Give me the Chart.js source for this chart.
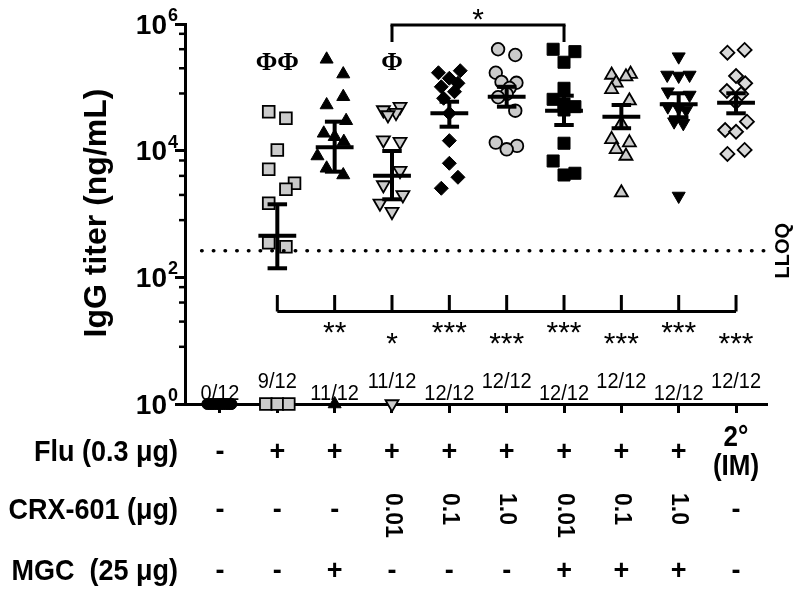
<!DOCTYPE html>
<html>
<head>
<meta charset="utf-8">
<title>IgG titer</title>
<script src="https://cdn.jsdelivr.net/npm/chart.js"></script>
<style>
  html, body { margin: 0; padding: 0; background: #fff; }
  canvas { display: block; }
</style>
</head>
<body>
<canvas id="titer-chart" width="800" height="593"></canvas>
<script>
var groups = [1, 2, 3, 4, 5, 6, 7, 8, 9, 10];

// IgG titer (ng/mL) of each mouse; 1 = not detected
var naive       = [1, 1, 1, 1, 1, 1, 1, 1, 1, 1, 1, 1];
var fluOnly     = [41200, 32400, 10250, 5080, 3050, 2455, 1476, 352, 305, 1, 1, 1];
var fluMgc      = [277000, 162000, 71100, 52600, 29700, 18800, 16600, 13900, 8240, 5270, 4130, 1];
var fluCrx001   = [49500, 43900, 39800, 36600, 14700, 13900, 4830, 2870, 2000, 1476, 1087, 1];
var fluCrx01    = [183000, 170000, 139000, 116000, 102000, 85300, 67100, 38900, 14400, 6320, 3800, 2550];
var fluCrx1     = [399000, 324000, 170000, 121600, 118000, 97700, 78500, 69700, 42800, 13400, 11900, 10500];
var mgcCrx001   = [399000, 366000, 249000, 96600, 64700, 54600, 49500, 43900, 13100, 6870, 4400, 4130];
var mgcCrx01    = [162000, 156700, 147300, 118000, 93100, 61500, 26400, 15100, 13400, 10500, 8240, 2170];
var mgcCrx1     = [305000, 156700, 151000, 156700, 85300, 75700, 49500, 47200, 43900, 28700, 27000, 1925];
var secondaryIm = [389000, 352000, 151000, 116000, 87500, 78500, 58800, 28700, 21200, 19900, 10250, 8870];
var titers = [naive, fluOnly, fluMgc, fluCrx001, fluCrx01, fluCrx1, mgcCrx001, mgcCrx01, mgcCrx1, secondaryIm];

// mean and SEM limits
var meanTiter = [null, 455, 11300, 4030, 38900, 71100, 42800, 34400, 54000, 57200];
var semLow    = [null, 139, 4660, 1707, 23900, 49500, 25400, 22600, 33700, 38900];
var semHigh   = [null, 1423, 28700, 9880, 59300, 102000, 73800, 52600, 80500, 80500];

var lloq = 263;
var responders = ['0/12', '9/12', '11/12', '11/12', '12/12', '12/12', '12/12', '12/12', '12/12', '12/12'];
var vsFluOnly  = ['', '', '**', '*', '***', '***', '***', '***', '***', '***'];
var phiMarks   = ['', '\u03A6\u03A6', '', '\u03A6', '', '', '', '', '', ''];

var fluRow = ['-', '+', '+', '+', '+', '+', '+', '+', '+', '2\u00B0'];
var crxRow = ['-', '-', '-', '0.01', '0.1', '1.0', '0.01', '0.1', '1.0', '-'];
var mgcRow = ['-', '-', '+', '-', '-', '-', '+', '+', '+', '-'];

var majorTicks = [1, 100, 10000, 1000000];
var tickExp = ['0', '2', '4', '6'];
var minorTicks = [8, 20, 40, 70, 800, 2000, 4000, 7000, 80000, 200000, 400000, 700000];

// horizontal spread of the dots inside each column (x units)
var jitter = [
  [-0.22, -0.18, -0.14, -0.1, -0.06, -0.02, 0.02, 0.06, 0.1, 0.14, 0.18, 0.2],
  [-0.15, 0.15, 0, -0.15, 0.3, 0.15, -0.15, -0.15, 0.15, -0.2, 0, 0.2],
  [-0.14, 0.15, 0.15, -0.14, 0.2, -0.19, 0, 0.16, -0.3, -0.14, 0.15, 0],
  [0.14, -0.15, 0.07, -0.07, -0.15, 0.14, 0.14, -0.15, 0.19, -0.21, 0, 0],
  [0.19, -0.19, 0, 0.15, -0.14, 0.09, -0.1, 0, 0, 0, 0.15, -0.14],
  [-0.15, 0.15, -0.19, -0.09, 0.17, 0.05, 0, -0.15, 0.15, -0.19, 0.18, 0],
  [-0.19, 0.19, 0, 0, -0.19, 0, 0.19, 0, 0, -0.19, 0.19, 0],
  [0.16, -0.17, 0.08, -0.09, -0.17, 0.14, 0, -0.17, 0.14, -0.09, 0.08, 0],
  [0, -0.2, 0, 0.19, -0.19, 0.19, -0.19, 0, 0.13, -0.08, 0.08, 0],
  [0.15, -0.15, 0, 0.16, -0.16, 0.09, 0, 0.19, -0.19, 0, 0.15, -0.15]
];

var GRAY = '#cbcbcb';
var markers = [
  { style: 'circle',   rot: 0,   r: 5.5, fill: '#000' },
  { style: 'rect',     rot: 0,   r: 8.3, fill: GRAY },
  { style: 'triangle', rot: 0,   r: 7.5, fill: '#000' },
  { style: 'triangle', rot: 180, r: 7.5, fill: GRAY },
  { style: 'rectRot',  rot: 0,   r: 7,   fill: '#000' },
  { style: 'circle',   rot: 0,   r: 6.3, fill: GRAY },
  { style: 'rect',     rot: 0,   r: 8.5, fill: '#000' },
  { style: 'triangle', rot: 0,   r: 7.5, fill: GRAY },
  { style: 'triangle', rot: 180, r: 7.5, fill: '#000' },
  { style: 'rectRot',  rot: 0,   r: 7,   fill: '#d8d8d8' }
];

var SANS = '"Liberation Sans", Arial, sans-serif';

// sy stretches the glyphs vertically, like the tall type of the original figure
function text(ctx, s, x, y, font, align, base, rot, sy) {
  ctx.save();
  ctx.translate(x, y);
  if (rot) ctx.rotate(rot);
  if (sy) ctx.scale(1, sy);
  ctx.font = font;
  ctx.textAlign = align || 'center';
  ctx.textBaseline = base || 'middle';
  ctx.fillStyle = '#000';
  ctx.fillText(s, 0, 0);
  ctx.restore();
}

function seg(ctx, x0, y0, x1, y1) {
  ctx.beginPath();
  ctx.moveTo(x0, y0);
  ctx.lineTo(x1, y1);
  ctx.stroke();
}

var datasets = [{
  type: 'line',
  data: [{ x: 0.68, y: lloq }, { x: 10.51, y: lloq }],
  borderColor: '#000',
  borderWidth: 3.5,
  borderDash: [0.5, 11.2],
  borderCapStyle: 'round',
  pointRadius: 0,
  clip: false
}];

groups.forEach(function (g, i) {
  var m = markers[i];
  datasets.push({
    type: 'scatter',
    data: titers[i].map(function (v, k) { return { x: g + jitter[i][k], y: v }; }),
    pointStyle: m.style,
    rotation: m.rot,
    pointRadius: m.r,
    backgroundColor: m.fill,
    borderColor: '#000',
    borderWidth: m.fill === '#000' ? 1 : 1.8,
    clip: false
  });
});

var annotate = {
  id: 'annotate',
  afterDatasetsDraw: function (chart) {
    var ctx = chart.ctx, xs = chart.scales.x, ys = chart.scales.y;
    ctx.save();
    ctx.strokeStyle = '#000';
    ctx.lineWidth = 4;
    groups.forEach(function (g, i) {
      if (meanTiter[i] == null) return;
      var x = xs.getPixelForValue(g);
      var ym = ys.getPixelForValue(meanTiter[i]);
      var yl = ys.getPixelForValue(semLow[i]);
      var yh = ys.getPixelForValue(semHigh[i]);
      seg(ctx, xs.getPixelForValue(g - 0.33), ym, xs.getPixelForValue(g + 0.33), ym);
      seg(ctx, x, yl, x, yh);
      seg(ctx, xs.getPixelForValue(g - 0.17), yl, xs.getPixelForValue(g + 0.17), yl);
      seg(ctx, xs.getPixelForValue(g - 0.17), yh, xs.getPixelForValue(g + 0.17), yh);
    });
    ctx.restore();
  },
  afterDraw: function (chart) {
    var ctx = chart.ctx, xs = chart.scales.x, ys = chart.scales.y;
    var left = chart.chartArea.left;
    ctx.save();
    ctx.strokeStyle = '#000';
    ctx.fillStyle = '#000';

    // minor ticks of the log axis
    ctx.lineWidth = 2.5;
    minorTicks.forEach(function (v) {
      var y = ys.getPixelForValue(v);
      seg(ctx, left - 6, y, left, y);
    });

    // 10^n labels
    majorTicks.forEach(function (v, i) {
      var y = ys.getPixelForValue(v);
      ctx.font = 'bold 18px ' + SANS;
      var w = ctx.measureText(tickExp[i]).width;
      text(ctx, tickExp[i], 178 - w, y - 8, 'bold 18px ' + SANS, 'left');
      text(ctx, '10', 177 - w, y + 2, 'bold 28px ' + SANS, 'right');
    });

    text(ctx, 'IgG titer (ng/mL)', 97, 213, 'bold 32px ' + SANS, 'center', 'middle', -Math.PI / 2);
    text(ctx, 'LLOQ', 783, ys.getPixelForValue(lloq), 'bold 20px ' + SANS, 'center', 'middle', -Math.PI / 2);

    // bracket: Flu alone vs every other group
    ctx.lineWidth = 3;
    var x2 = xs.getPixelForValue(2), x10 = xs.getPixelForValue(10);
    seg(ctx, x2, 311.5, x10, 311.5);
    groups.forEach(function (g, i) {
      var x = xs.getPixelForValue(g);
      if (g >= 2) seg(ctx, x, 295, x, 311.5);
      if (vsFluOnly[i]) {
        var yc = (g % 2 === 1) ? 325 : 336;
        text(ctx, vsFluOnly[i], x, yc + 17, '30px ' + SANS, 'center', 'alphabetic');
      }
      if (phiMarks[i]) text(ctx, phiMarks[i], x, 70, 'bold 26px "Liberation Serif", "Times New Roman", serif', 'center', 'alphabetic');
      text(ctx, responders[i], x, (g % 2 === 1) ? 400 : 388, '20px ' + SANS, 'center', 'alphabetic', 0, 1.12);
    });

    // bracket: 0.01 ug CRX-601 with vs without MGC
    var x4 = xs.getPixelForValue(4), x7 = xs.getPixelForValue(7);
    seg(ctx, x4, 42, x4, 25);
    seg(ctx, x4 - 1.5, 25, x7 + 1.5, 25);
    seg(ctx, x7, 25, x7, 42);
    text(ctx, '*', (x4 + x7) / 2, 29, '30px ' + SANS, 'center', 'alphabetic');

    // treatment table
    var rowFont = 'bold 27px ' + SANS;
    text(ctx, 'Flu (0.3 \u03BCg)', 178, 453, rowFont, 'right', 'middle', 0, 1.12);
    text(ctx, 'CRX-601 (\u03BCg)', 178, 511, rowFont, 'right', 'middle', 0, 1.12);
    text(ctx, 'MGC  (25 \u03BCg)', 178, 572, rowFont, 'right', 'middle', 0, 1.12);
    groups.forEach(function (g, i) {
      var x = xs.getPixelForValue(g);
      if (g === 10) {
        text(ctx, fluRow[i], x, 438, 'bold 26px ' + SANS, 'center', 'middle', 0, 1.1);
        text(ctx, '(IM)', x, 467, 'bold 26px ' + SANS, 'center', 'middle', 0, 1.1);
      } else {
        text(ctx, fluRow[i], x, 453, 'bold 27px ' + SANS);
      }
      if (crxRow[i].length > 1) {
        text(ctx, crxRow[i], x, 493, 'bold 23px ' + SANS, 'left', 'middle', Math.PI / 2);
      } else {
        text(ctx, crxRow[i], x, 511, 'bold 27px ' + SANS);
      }
      text(ctx, mgcRow[i], x, 572, 'bold 27px ' + SANS);
    });
    ctx.restore();
  }
};

new Chart(document.getElementById('titer-chart'), {
  type: 'scatter',
  data: { datasets: datasets },
  options: {
    responsive: false,
    animation: false,
    layout: { padding: { top: 24, right: 33, bottom: 179, left: 0 } },
    plugins: { legend: { display: false }, tooltip: { enabled: false } },
    scales: {
      x: {
        type: 'linear',
        min: 0.39,
        max: 10.54,
        afterBuildTicks: function (s) { s.ticks = groups.map(function (g) { return { value: g }; }); },
        afterFit: function (s) { s.height = 10; },
        ticks: { display: false },
        grid: { drawOnChartArea: false, tickLength: 9, tickWidth: 3, tickColor: '#000' },
        border: { display: true, color: '#000', width: 3 }
      },
      y: {
        type: 'logarithmic',
        min: 1,
        max: 1000000,
        afterBuildTicks: function (s) { s.ticks = majorTicks.map(function (v) { return { value: v }; }); },
        afterFit: function (s) { s.width = 185; },
        ticks: { display: false },
        grid: { drawOnChartArea: false, tickLength: 10, tickWidth: 3, tickColor: '#000' },
        border: { display: true, color: '#000', width: 3 }
      }
    }
  },
  plugins: [annotate]
});
</script>
</body>
</html>
